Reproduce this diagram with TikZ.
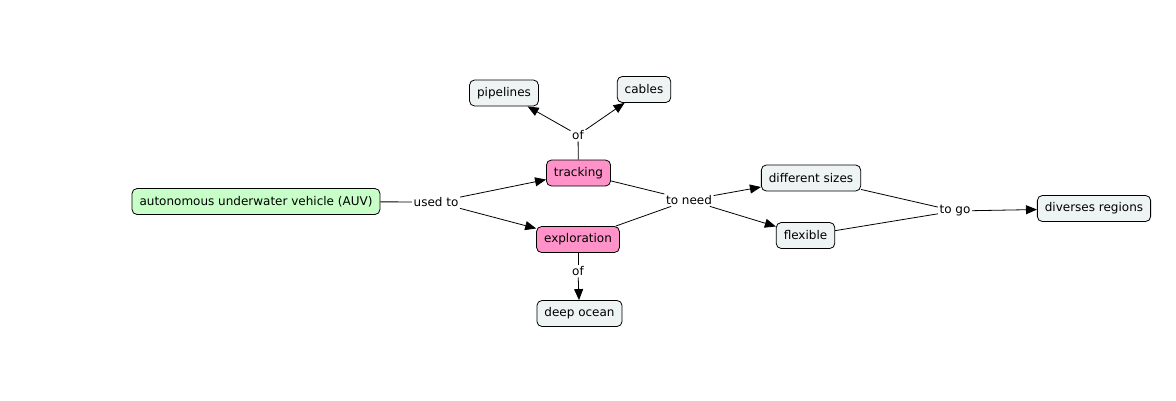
\documentclass[tikz,border=0pt]{standalone}
\usepackage{fontspec}
\setmainfont{DejaVu Sans}
\usetikzlibrary{arrows.meta}

\definecolor{auvgreen}{HTML}{C8FFC8}
\definecolor{taskpink}{HTML}{FF92C8}
\definecolor{termgray}{HTML}{EEF3F4}

\tikzset{
	concept/.style={draw=black, line width=0.8pt, rounded corners=5pt, inner xsep=7.5pt, minimum height=26pt, font=\fontsize{12}{14}\selectfont},
	linklabel/.style={inner sep=1.5pt, font=\fontsize{12}{14}\selectfont},
	link/.style={line width=0.8pt},
	linkarrow/.style={line width=0.8pt, -{Triangle[length=11pt,width=9pt]}}
}

\begin{document}
\begin{tikzpicture}[x=1pt, y=-1pt]
		%%%%% START %%%%%
		
		\useasboundingbox[fill=white] (0, 0) rectangle (1176, 400);
		
		\node[concept, fill=auvgreen] (auv) at (256, 201.5) {autonomous underwater vehicle (AUV)};
		\node[concept, fill=taskpink] (track) at (578.5, 173) {tracking};
		\node[concept, fill=taskpink] (explore) at (578, 239.5) {exploration};
		\node[concept, fill=termgray] (pipe) at (504, 93) {pipelines};
		\node[concept, fill=termgray] (cable) at (644, 89.5) {cables};
		\node[concept, fill=termgray] (ocean) at (579.5, 313.5) {deep ocean};
		\node[concept, fill=termgray] (sizes) at (811, 178) {different sizes};
		\node[concept, fill=termgray] (flex) at (805.5, 235.5) {flexible};
		\node[concept, fill=termgray] (regions) at (1094, 208.5) {diverses regions};
		
		\node[linklabel] (usedto) at (436, 202) {used to};
		\node[linklabel] (oftrack) at (578, 135) {of};
		\node[linklabel] (ofexplore) at (578, 271) {of};
		\node[linklabel] (toneed) at (689, 200) {to need};
		\node[linklabel] (togo) at (955, 211) {to go};
		
		\draw[link] (auv) -- (usedto);
		\draw[linkarrow] (usedto) -- (track);
		\draw[linkarrow] (usedto) -- (explore);
		
		\draw[link] (track) -- (oftrack);
		\draw[linkarrow] (oftrack) -- (pipe);
		\draw[linkarrow] (oftrack) -- (cable);
		
		\draw[link] (explore) -- (ofexplore);
		\draw[linkarrow] (ofexplore) -- (ocean);
		
		\draw[link] (track) -- (toneed);
		\draw[link] (explore) -- (toneed);
		\draw[linkarrow] (toneed) -- (sizes);
		\draw[linkarrow] (toneed) -- (flex);
		
		\draw[link] (sizes) -- (togo);
		\draw[link] (flex) -- (togo);
		\draw[linkarrow] (togo) -- (regions);
		
		%%%%% END %%%%%
	\end{tikzpicture}
\end{document}
